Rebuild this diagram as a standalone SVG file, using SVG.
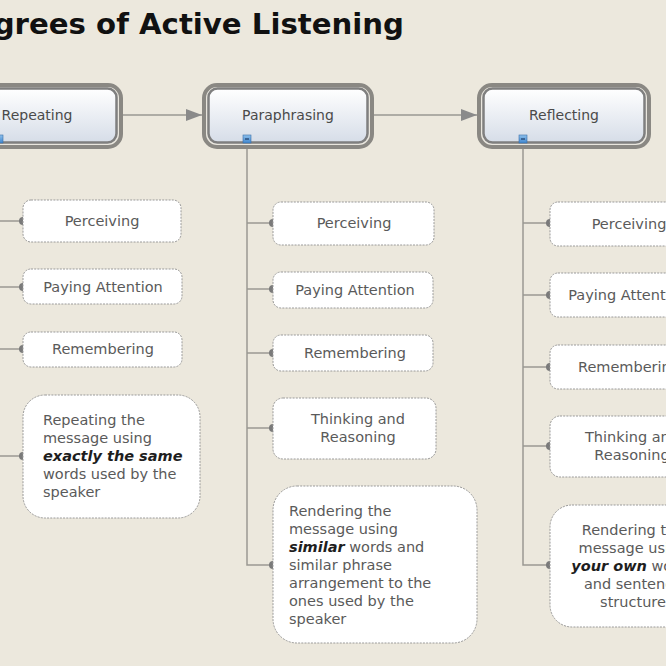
<svg xmlns="http://www.w3.org/2000/svg" width="666" height="666" viewBox="0 0 666 666">
<defs>
<linearGradient id="topFill" x1="0" y1="0" x2="0" y2="1">
<stop offset="0" stop-color="#ffffff"/>
<stop offset="1" stop-color="#d6dde8"/>
</linearGradient>
<linearGradient id="iconFill" x1="0" y1="0" x2="0" y2="1">
<stop offset="0" stop-color="#8ec0ec"/>
<stop offset="1" stop-color="#3f86cf"/>
</linearGradient>
<marker id="arrow" viewBox="0 0 16 12" refX="16" refY="6" markerWidth="16" markerHeight="12" markerUnits="userSpaceOnUse" orient="auto">
<path d="M0,0 L16,6 L0,12 Z" fill="#8a8a8a"/>
</marker>
</defs>
<style>
.bg{fill:#ece8dd}
.title{font-family:"DejaVu Sans",Verdana,sans-serif;font-weight:bold;font-size:29.2px;fill:#111}
.outer{fill:#e9e6de;stroke:#8a8883;stroke-width:4}
.inner{fill:url(#topFill);stroke:#7f7f7f;stroke-width:2.5}
.toplbl{font-family:"DejaVu Sans",Verdana,sans-serif;font-size:14px;fill:#4a4a4a;text-anchor:middle}
.box{fill:#ffffff;stroke:#9a9a9a;stroke-width:1;stroke-dasharray:2 1.2}
.lbl{font-family:"DejaVu Sans",Verdana,sans-serif;font-size:14.5px;fill:#5a5a5a}
.c{text-anchor:middle}
.em{font-weight:bold;font-style:italic;fill:#1e1e1e}
.link{fill:none;stroke:#9a9892;stroke-width:1.5}
.dot{fill:#7a7a7a}
.icon{fill:url(#iconFill);stroke:#3a6fa8;stroke-width:0.6}
.minus{stroke:#1d3d66;stroke-width:1.2}
</style>
<rect class="bg" x="0" y="0" width="666" height="666"/>
<text class="title" x="404" y="34" text-anchor="end">Degrees of Active Listening</text>

<g id="connectors">
<line class="link" x1="123" y1="115" x2="202" y2="115" marker-end="url(#arrow)"/>
<line class="link" x1="374" y1="115" x2="477" y2="115" marker-end="url(#arrow)"/>
<!-- Repeating branches -->
<line class="link" x1="-1" y1="143" x2="-1" y2="456"/>
<path class="link" d="M0,221 H23 M0,287 H23 M0,349 H23 M0,456 H23"/>
<circle class="dot" cx="23" cy="221" r="4"/>
<circle class="dot" cx="23" cy="287" r="4"/>
<circle class="dot" cx="23" cy="349" r="4"/>
<circle class="dot" cx="23" cy="456" r="4"/>
<!-- Paraphrasing branches -->
<path class="link" d="M247,143 V565 H273 M247,223 H273 M247,289 H273 M247,353 H273 M247,428 H273"/>
<circle class="dot" cx="273" cy="223" r="4"/>
<circle class="dot" cx="273" cy="289" r="4"/>
<circle class="dot" cx="273" cy="353" r="4"/>
<circle class="dot" cx="273" cy="428" r="4"/>
<circle class="dot" cx="273" cy="565" r="4"/>
<!-- Reflecting branches -->
<path class="link" d="M523,143 V565 H550 M523,223 H550 M523,295 H550 M523,367 H550 M523,446 H550"/>
<circle class="dot" cx="550" cy="223" r="4"/>
<circle class="dot" cx="550" cy="295" r="4"/>
<circle class="dot" cx="550" cy="367" r="4"/>
<circle class="dot" cx="550" cy="446" r="4"/>
<circle class="dot" cx="550" cy="565" r="4"/>
</g>

<g id="repeating">
<rect class="outer" x="-48" y="85" width="169" height="62" rx="13"/>
<rect class="inner" x="-43.5" y="88.5" width="160" height="54" rx="9"/>
<text class="toplbl" x="37" y="120">Repeating</text>
<rect class="icon" x="-5" y="135" width="8" height="8"/>
</g>
<g id="paraphrasing">
<rect class="outer" x="204" y="85" width="168" height="62" rx="13"/>
<rect class="inner" x="208.5" y="88.5" width="159" height="54" rx="9"/>
<text class="toplbl" x="288" y="120">Paraphrasing</text>
<rect class="icon" x="243" y="135" width="8" height="8"/>
<line class="minus" x1="245" y1="139" x2="249" y2="139"/>
</g>
<g id="reflecting">
<rect class="outer" x="479" y="85" width="170" height="62" rx="13"/>
<rect class="inner" x="483.5" y="88.5" width="161" height="54" rx="9"/>
<text class="toplbl" x="564" y="120">Reflecting</text>
<rect class="icon" x="519" y="135" width="8" height="8"/>
<line class="minus" x1="521" y1="139" x2="525" y2="139"/>
</g>

<!-- Repeating children -->
<g id="rep-perceiving">
<rect class="box" x="23" y="200" width="158" height="42" rx="8"/>
<text class="lbl c" x="102" y="226">Perceiving</text>
</g>
<g id="rep-paying">
<rect class="box" x="23" y="269" width="159" height="35" rx="8"/>
<text class="lbl c" x="103" y="292">Paying Attention</text>
</g>
<g id="rep-remembering">
<rect class="box" x="23" y="332" width="159" height="35" rx="8"/>
<text class="lbl c" x="103" y="354">Remembering</text>
</g>
<g id="rep-desc">
<rect class="box" x="23" y="395" width="177" height="123" rx="22"/>
<text class="lbl" x="43" y="425">Repeating the</text>
<text class="lbl" x="43" y="443">message using</text>
<text class="lbl em" x="43" y="461">exactly the same</text>
<text class="lbl" x="43" y="479">words used by the</text>
<text class="lbl" x="43" y="497">speaker</text>
</g>

<!-- Paraphrasing children -->
<g id="par-perceiving">
<rect class="box" x="273" y="202" width="161" height="43" rx="8"/>
<text class="lbl c" x="354" y="228">Perceiving</text>
</g>
<g id="par-paying">
<rect class="box" x="273" y="272" width="160" height="36" rx="8"/>
<text class="lbl c" x="355" y="295">Paying Attention</text>
</g>
<g id="par-remembering">
<rect class="box" x="273" y="335" width="160" height="36" rx="8"/>
<text class="lbl c" x="355" y="358">Remembering</text>
</g>
<g id="par-thinking">
<rect class="box" x="273" y="398" width="163" height="61" rx="10"/>
<text class="lbl c" x="358" y="424">Thinking and</text>
<text class="lbl c" x="358" y="442">Reasoning</text>
</g>
<g id="par-desc">
<rect class="box" x="273" y="486" width="204" height="157" rx="24"/>
<text class="lbl" x="289" y="516">Rendering the</text>
<text class="lbl" x="289" y="534">message using</text>
<text class="lbl" x="289" y="552"><tspan class="em">similar</tspan> words and</text>
<text class="lbl" x="289" y="570">similar phrase</text>
<text class="lbl" x="289" y="588">arrangement to the</text>
<text class="lbl" x="289" y="606">ones used by the</text>
<text class="lbl" x="289" y="624">speaker</text>
</g>

<!-- Reflecting children -->
<g id="ref-perceiving">
<rect class="box" x="550" y="202" width="158" height="44" rx="8"/>
<text class="lbl c" x="629" y="229">Perceiving</text>
</g>
<g id="ref-paying">
<rect class="box" x="550" y="273" width="158" height="44" rx="8"/>
<text class="lbl c" x="628" y="300">Paying Attention</text>
</g>
<g id="ref-remembering">
<rect class="box" x="550" y="345" width="158" height="44" rx="8"/>
<text class="lbl c" x="629" y="372">Remembering</text>
</g>
<g id="ref-thinking">
<rect class="box" x="550" y="416" width="162" height="61" rx="10"/>
<text class="lbl c" x="632" y="442">Thinking and</text>
<text class="lbl c" x="632" y="460">Reasoning</text>
</g>
<g id="ref-desc">
<rect class="box" x="550" y="505" width="166" height="122" rx="22"/>
<text class="lbl c" x="633" y="535">Rendering the</text>
<text class="lbl c" x="633" y="553">message using</text>
<text class="lbl c" x="633" y="571"><tspan class="em">your own</tspan> words</text>
<text class="lbl c" x="633" y="589">and sentence</text>
<text class="lbl c" x="633" y="607">structure</text>
</g>
</svg>
